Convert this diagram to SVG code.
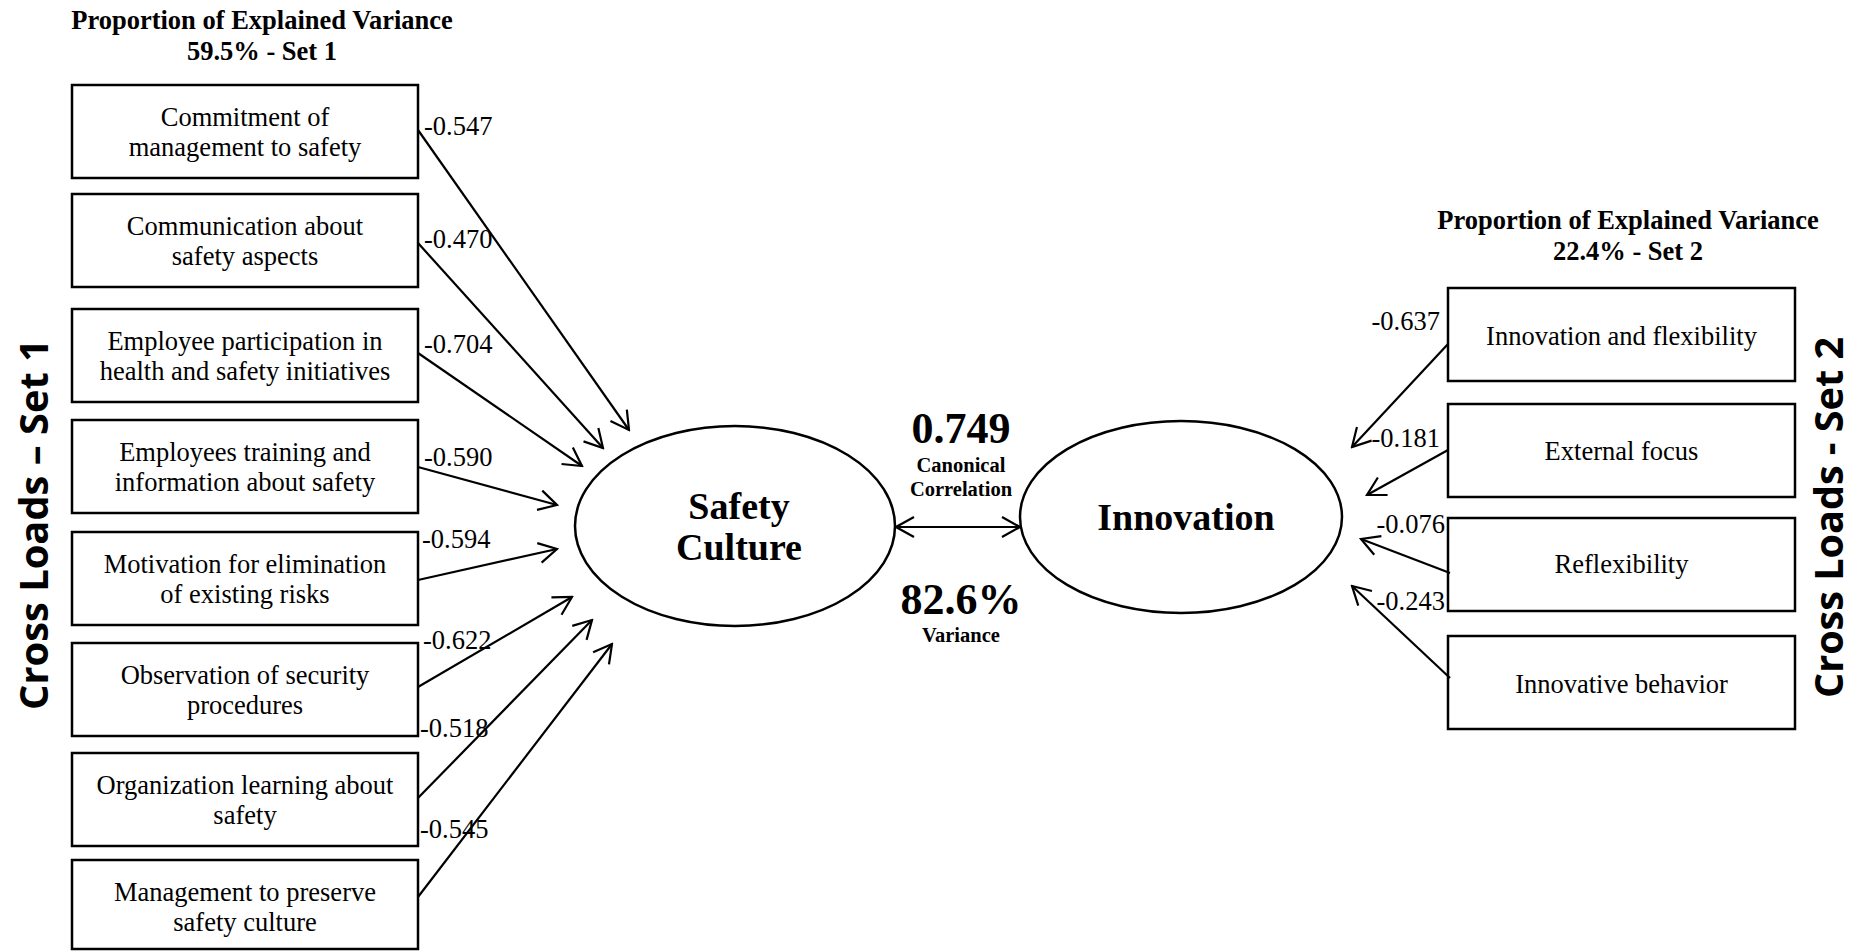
<svg xmlns="http://www.w3.org/2000/svg" width="1854" height="951" viewBox="0 0 1854 951">
<style>
.box{fill:#fff;stroke:#000;stroke-width:2.5}
.ell{fill:#fff;stroke:#000;stroke-width:2.5}
.t{font-family:"Liberation Serif","Times New Roman",serif;font-size:26.5px;fill:#000}
.c{text-anchor:middle}
.b{font-weight:bold}
.lbl{font-family:"Liberation Serif","Times New Roman",serif;font-size:26.5px;fill:#000}
.big{font-family:"Liberation Serif","Times New Roman",serif;font-weight:bold;font-size:38px;text-anchor:middle}
.num{font-family:"Liberation Serif","Times New Roman",serif;font-weight:bold;font-size:44px;text-anchor:middle}
.sm{font-family:"Liberation Serif","Times New Roman",serif;font-weight:bold;font-size:20.5px;text-anchor:middle}
.side{font-family:"Open Sans","Noto Sans",sans-serif;font-weight:bold;font-size:40px;text-anchor:middle}
.con line{stroke:#000;stroke-width:2.2;marker-end:url(#ah)}
</style>
<defs>
<marker id="ah" viewBox="-2 -2 22 24" refX="18" refY="10" markerWidth="22" markerHeight="24" markerUnits="userSpaceOnUse" orient="auto-start-reverse">
<path d="M0,0 L18,10 L0,20" fill="none" stroke="#000" stroke-width="2.2"/>
</marker>
</defs>
<rect width="1854" height="951" fill="#fff"/>

<g id="title1">
<text class="t b c" x="262" y="29">Proportion of Explained Variance</text>
<text class="t b c" x="262" y="60">59.5% - Set 1</text>
</g>
<g id="title2">
<text class="t b c" x="1628" y="229">Proportion of Explained Variance</text>
<text class="t b c" x="1628" y="260">22.4% - Set 2</text>
</g>

<g id="side1"><text class="side" transform="translate(48,524.5) rotate(-90)" textLength="371" lengthAdjust="spacingAndGlyphs">Cross Loads – Set 1</text></g>
<g id="side2"><text class="side" transform="translate(1843,517.5) rotate(-90)" textLength="361" lengthAdjust="spacingAndGlyphs">Cross Loads - Set 2</text></g>

<g id="n1"><rect class="box" x="72" y="85" width="346" height="93"/>
<text class="t c" x="245" y="125.5">Commitment of</text><text class="t c" x="245" y="155.5">management to safety</text></g>
<g id="n2"><rect class="box" x="72" y="194" width="346" height="93"/>
<text class="t c" x="245" y="234.5">Communication about</text><text class="t c" x="245" y="264.5">safety aspects</text></g>
<g id="n3"><rect class="box" x="72" y="309" width="346" height="93"/>
<text class="t c" x="245" y="349.5">Employee participation in</text><text class="t c" x="245" y="379.5">health and safety initiatives</text></g>
<g id="n4"><rect class="box" x="72" y="420" width="346" height="93"/>
<text class="t c" x="245" y="460.5">Employees training and</text><text class="t c" x="245" y="490.5">information about safety</text></g>
<g id="n5"><rect class="box" x="72" y="532" width="346" height="93"/>
<text class="t c" x="245" y="572.5">Motivation for elimination</text><text class="t c" x="245" y="602.5">of existing risks</text></g>
<g id="n6"><rect class="box" x="72" y="643" width="346" height="93"/>
<text class="t c" x="245" y="683.5">Observation of security</text><text class="t c" x="245" y="713.5">procedures</text></g>
<g id="n7"><rect class="box" x="72" y="753" width="346" height="93"/>
<text class="t c" x="245" y="793.5">Organization learning about</text><text class="t c" x="245" y="823.5">safety</text></g>
<g id="n8"><rect class="box" x="72" y="860" width="346" height="89"/>
<text class="t c" x="245" y="900.5">Management to preserve</text><text class="t c" x="245" y="930.5">safety culture</text></g>

<g id="r1"><rect class="box" x="1448" y="288" width="347" height="93"/><text class="t c" x="1621.5" y="345">Innovation and flexibility</text></g>
<g id="r2"><rect class="box" x="1448" y="404" width="347" height="93"/><text class="t c" x="1621.5" y="460">External focus</text></g>
<g id="r3"><rect class="box" x="1448" y="518" width="347" height="93"/><text class="t c" x="1621.5" y="573">Reflexibility</text></g>
<g id="r4"><rect class="box" x="1448" y="636" width="347" height="93"/><text class="t c" x="1621.5" y="693">Innovative behavior</text></g>

<g id="safety"><ellipse class="ell" cx="735" cy="526" rx="160" ry="100"/>
<text class="big" x="739" y="519">Safety</text><text class="big" x="739" y="560">Culture</text></g>
<g id="innovation"><ellipse class="ell" cx="1181" cy="517" rx="161" ry="96"/>
<text class="big" x="1186" y="530">Innovation</text></g>

<g id="connectors" class="con">
<line x1="418" y1="130" x2="629" y2="430"/>
<line x1="418" y1="243" x2="603" y2="448"/>
<line x1="418" y1="353" x2="582" y2="466"/>
<line x1="418" y1="467" x2="557" y2="505"/>
<line x1="418" y1="580" x2="557" y2="549"/>
<line x1="418" y1="687" x2="572" y2="597"/>
<line x1="418" y1="798" x2="592" y2="620"/>
<line x1="418" y1="897" x2="612" y2="644"/>
<line x1="1448" y1="344" x2="1352" y2="447"/>
<line x1="1448" y1="450" x2="1367" y2="495"/>
<line x1="1450" y1="573" x2="1361" y2="539"/>
<line x1="1450" y1="678" x2="1352" y2="586"/>
<line x1="896" y1="527" x2="1020" y2="527" style="marker-start:url(#ah)"/>
</g>

<g id="labels">
<text class="lbl" x="424" y="135">-0.547</text>
<text class="lbl" x="424" y="248">-0.470</text>
<text class="lbl" x="424" y="353">-0.704</text>
<text class="lbl" x="424" y="466">-0.590</text>
<text class="lbl" x="422" y="548">-0.594</text>
<text class="lbl" x="423" y="649">-0.622</text>
<text class="lbl" x="420" y="737">-0.518</text>
<text class="lbl" x="420" y="838">-0.545</text>
<text class="lbl" x="1440" y="330" text-anchor="end">-0.637</text>
<text class="lbl" x="1440" y="447" text-anchor="end">-0.181</text>
<text class="lbl" x="1445" y="533" text-anchor="end">-0.076</text>
<text class="lbl" x="1445" y="610" text-anchor="end">-0.243</text>
</g>

<g id="corr">
<text class="num" x="961" y="443">0.749</text>
<text class="sm" x="961" y="472">Canonical</text>
<text class="sm" x="961" y="496">Correlation</text>
<text class="num" x="961" y="614">82.6%</text>
<text class="sm" x="961" y="642">Variance</text>
</g>
</svg>
